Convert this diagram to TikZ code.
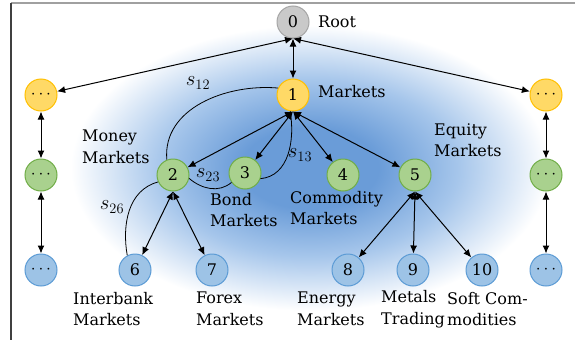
\documentclass[tikz,border=0pt]{standalone}
\usepackage{fontspec}
\setmainfont{DejaVu Serif}
\usetikzlibrary{arrows.meta}
\definecolor{grayfill}{HTML}{C9C9C9}
\definecolor{graydraw}{HTML}{A5A5A5}
\definecolor{yelfill}{HTML}{FFD966}
\definecolor{yeldraw}{HTML}{FFC000}
\definecolor{grnfill}{HTML}{A9D18E}
\definecolor{grndraw}{HTML}{70AD47}
\definecolor{blufill}{HTML}{9DC3E6}
\definecolor{bludraw}{HTML}{5B9BD5}
\definecolor{glowA}{HTML}{6A9CD8}
\definecolor{glowB}{HTML}{A6C6EB}
\definecolor{frameL}{HTML}{404040}
\definecolor{frameT}{HTML}{A0A0A0}
\pgfdeclareradialshading{glow}{\pgfpoint{0bp}{0bp}}{color(0bp)=(glowA); color(6bp)=(glowA); color(13bp)=(glowB); color(21bp)=(white); color(25bp)=(white); color(50bp)=(white)}
\begin{document}
\begin{tikzpicture}[x=1pt,y=-1pt,
  nd/.style={circle, minimum size=32pt, inner sep=0pt, line width=1pt, font=\fontsize{16}{18}\selectfont},
  gnode/.style={nd, fill=grayfill, draw=graydraw},
  ynode/.style={nd, fill=yelfill, draw=yeldraw},
  cnode/.style={nd, fill=grnfill, draw=grndraw},
  bnode/.style={nd, fill=blufill, draw=bludraw},
  lbl/.style={anchor=west, align=left, inner sep=0pt, font=\fontsize{16}{21.5}\selectfont},
  link/.style={{Latex[length=8pt,width=7pt]}-{Latex[length=8pt,width=7pt]}, line width=1pt},
  sarc/.style={line width=0.8pt},
  slbl/.style={inner sep=0pt, font=\fontsize{20}{22}\selectfont}
]
\useasboundingbox (0,0) rectangle (575,340);
\fill[white] (0,0) rectangle (575,340);
\shade[shading=glow] (310,168) ellipse (285 and 170);
\draw[frameT, line width=1.5pt] (11,3) -- (575,3);
\draw[frameL, line width=1.5pt] (11,3) -- (11,340);

% nodes
\node[gnode] (n0) at (293,22) {0};
\node[ynode] (n1) at (293,95) {1};
\node[ynode] (ly) at (41,95) {$\cdots$};
\node[ynode] (ry) at (546,95) {$\cdots$};
\node[cnode] (n2) at (173,175) {2};
\node[cnode] (n3) at (245,173) {3};
\node[cnode] (n4) at (343,175) {4};
\node[cnode] (n5) at (415,175) {5};
\node[cnode] (lg) at (41,175) {$\cdots$};
\node[cnode] (rg) at (546,175) {$\cdots$};
\node[bnode] (n6) at (135,270) {6};
\node[bnode] (n7) at (212,270) {7};
\node[bnode] (n8) at (348,270) {8};
\node[bnode] (n9) at (413,270) {9};
\node[bnode] (n10) at (482,270) {10};
\node[bnode] (lb) at (41,270) {$\cdots$};
\node[bnode] (rb) at (546,270) {$\cdots$};

% labels
\node[lbl] (tRoot) at (318,22) {Root};
\node[lbl] (tM) at (318,92) {Markets};
\node[lbl] (tMoney) at (82,147) {Money\\Markets};
\node[lbl] (tBond) at (210,210) {Bond\\Markets};
\node[lbl] (tComm) at (290,208) {Commodity\\Markets};
\node[lbl] (tEq) at (434,140) {Equity\\Markets};
\node[lbl] (tInt) at (73,309) {Interbank\\Markets};
\node[lbl] (tFx) at (196,309) {Forex\\Markets};
\node[lbl] (tEn) at (297,309) {Energy\\Markets};
\node[lbl] (tMet) at (381,309) {Metals\\Trading};
\node[lbl] (tSoft) at (447,309) {Soft Com-\\modities};

% links
\draw[link] (n0.south) -- (n1);
\draw[link] (n0.south) -- (ly);
\draw[link] (n0.south) -- (ry);
\draw[link] (n1.south) -- (n2);
\draw[link] (n1.south) -- (n3);
\draw[link] (n1.south) -- (n4);
\draw[link] (n1.south) -- (n5);
\draw[link] (n2.south) -- (n6);
\draw[link] (n2.south) -- (n7);
\draw[link] (n5.south) -- (n8);
\draw[link] (n5.south) -- (n9);
\draw[link] (n5.south) -- (n10);
\draw[link] (ly) -- (lg);
\draw[link] (lg) -- (lb);
\draw[link] (ry) -- (rg);
\draw[link] (rg) -- (rb);

% similarity arcs
\draw[sarc] (n1.155) to[out=175, in=95] (n2.112);
\draw[sarc] (n2.-12) to[out=-40, in=-140] (n3.-145);
\draw[sarc] (n3.-20) to[out=5, in=-80] (n1.-100);
\draw[sarc] (n2.205) to[out=195, in=100] (n6.118);

\node[slbl] (s12) at (198,83) {$s_{12}$};
\node[slbl] (s23) at (208,175) {$s_{23}$};
\node[slbl] (s13) at (300,155) {$s_{13}$};
\node[slbl] (s26) at (112,207) {$s_{26}$};
\end{tikzpicture}
\end{document}
